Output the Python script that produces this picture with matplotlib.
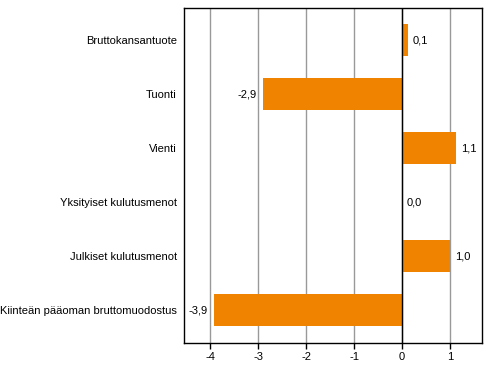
import matplotlib.pyplot as plt

# Data
categories = ["Bruttokansantuote", "Tuonti", "Vienti", "Yksityiset kulutusmenot",
              "Julkiset kulutusmenot", "Kiinteän pääoman bruttomuodostus"]
values = [0.12, -2.9, 1.12, 0.0, 1.0, -3.92]
labels = ["0,1", "-2,9", "1,1", "0,0", "1,0", "-3,9"]
xticks = [-4, -3, -2, -1, 0, 1]

plt.rcParams['font.family'] = ['Liberation Sans', 'DejaVu Sans']

fig = plt.figure(figsize=(4.91, 3.78), dpi=100)
ax = fig.add_axes([184.3 / 491, 1 - 342.7 / 378, 298 / 491, 334.4 / 378])

ypos = list(range(len(categories)))
ax.barh(ypos, values, height=0.6, color='#f08300', zorder=3)

for y, v, lab in zip(ypos, values, labels):
    if v < 0:
        ax.text(v - 0.14, y, lab, ha='right', va='center', fontsize=8)
    else:
        ax.text(v + 0.1, y, lab, ha='left', va='center', fontsize=8)

ax.set_xlim(-4.54, 1.67)
ax.set_ylim(5.6, -0.59)
ax.set_xticks(xticks)
ax.set_xticklabels([str(t) for t in xticks], fontsize=8)
ax.set_yticks(ypos)
ax.set_yticklabels(categories, fontsize=8)
ax.tick_params(axis='y', length=0, pad=5.5)
ax.tick_params(axis='x', length=4, width=1, direction='out', pad=3)

ax.grid(axis='x', color='#999999', linewidth=1, zorder=0)
ax.axvline(0, color='black', linewidth=1, zorder=4)
for s in ax.spines.values():
    s.set_linewidth(1)
    s.set_color('black')

plt.savefig("out.png", dpi=100)
